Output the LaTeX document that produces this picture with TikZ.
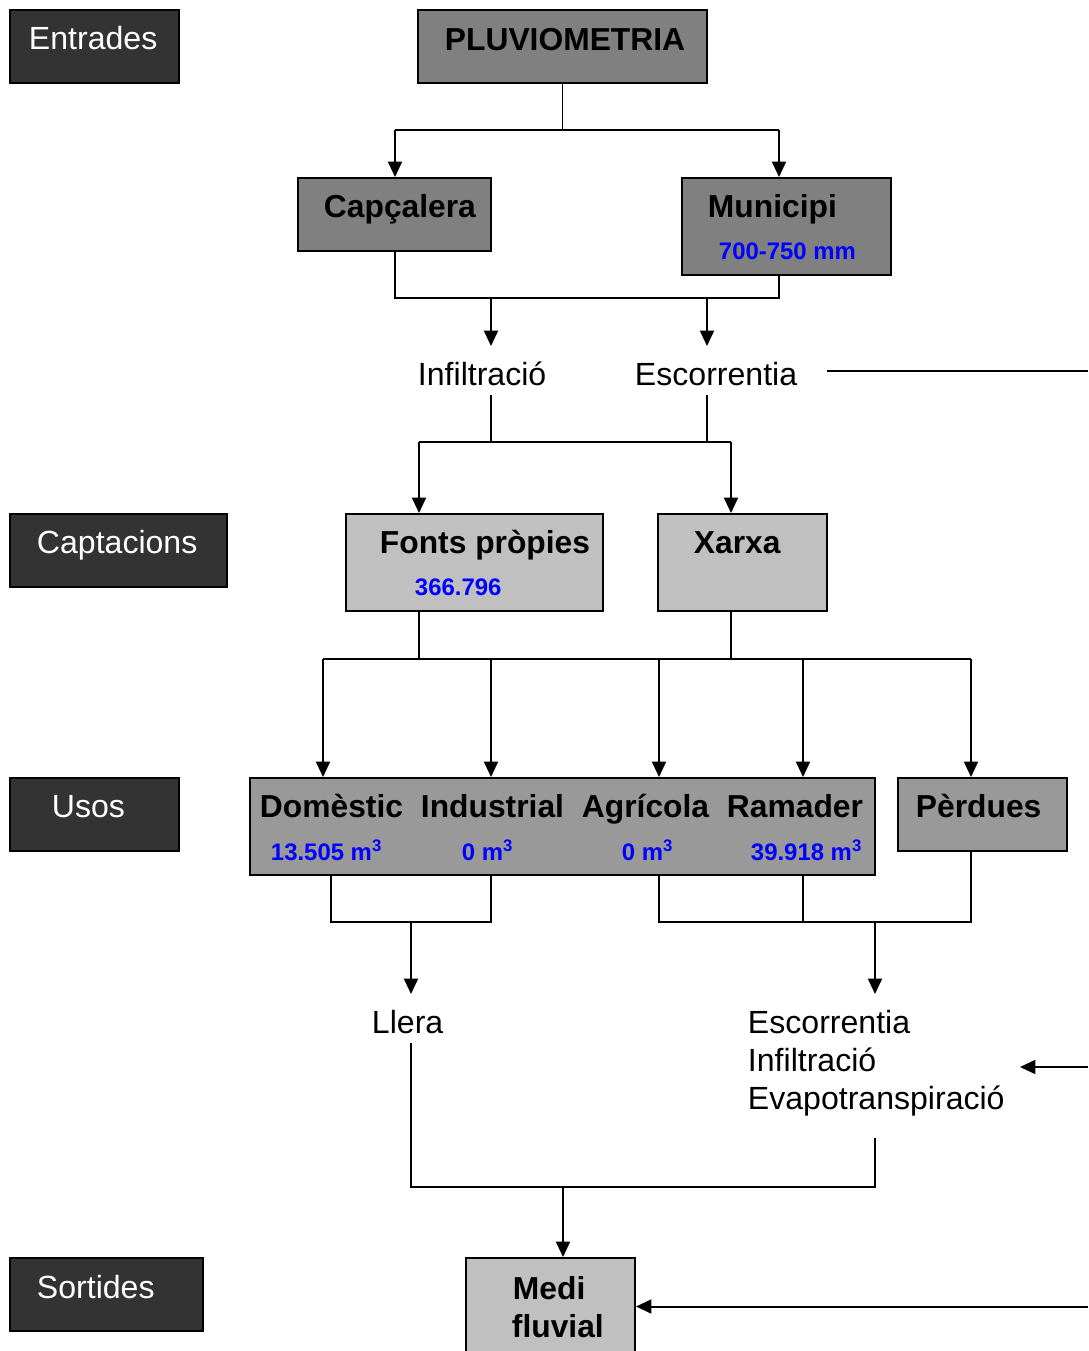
\documentclass[tikz,border=0pt]{standalone}
\usepackage{fontspec}
\setmainfont{Liberation Sans}
\usetikzlibrary{arrows.meta}

\definecolor{grisfosc}{HTML}{333333}
\definecolor{grismig}{HTML}{808080}
\definecolor{grisusos}{HTML}{999999}
\definecolor{grisclar}{HTML}{C0C0C0}
\definecolor{blau}{HTML}{0000FF}

\begin{document}
\begin{tikzpicture}[
                x=0.025cm, y=-0.025cm,
                line width=1.4pt,
                >={Triangle[length=11pt,width=10pt]},
                % Caixes rectangulars
                caixa/.style={
                    draw,
                    rectangle,
                    inner sep=0pt,
                    line width=1.4pt
                },
                fosca/.style={caixa, fill=grisfosc},
                % Textos
                rotul/.style={inner sep=0pt, anchor=base west, font=\fontsize{22.8}{27}\selectfont},
                negreta/.style={rotul, font=\fontsize{22.6}{27}\selectfont\bfseries},
                blanc/.style={rotul, text=white},
                valor/.style={inner sep=0pt, anchor=base west, text=blau,
                    font=\fontsize{17}{20}\selectfont\bfseries}
            ]

                \fill[white] (0,0) rectangle (1088,1351);
                \useasboundingbox (0,0) rectangle (1088,1351);

                % ========================================================
                % 1. Eixos i nivells de les connexions
                % ========================================================
                \coordinate (x-capc) at (395,0);
                \coordinate (x-muni) at (779,0);
                \coordinate (x-infil) at (491,0);
                \coordinate (x-escor) at (707,0);
                \coordinate (x-fonts) at (419,0);
                \coordinate (x-xarxa) at (731,0);
                \coordinate (x-dom) at (323,0);
                \coordinate (x-dom2) at (331,0);
                \coordinate (x-ind) at (491,0);
                \coordinate (x-agr) at (659,0);
                \coordinate (x-ram) at (803,0);
                \coordinate (x-perd) at (971,0);
                \coordinate (x-llera) at (411,0);
                \coordinate (x-evap) at (875,0);
                \coordinate (x-medi) at (563,0);
                \coordinate (dreta) at (1088,0);

                \coordinate (y-pluvio) at (0,130);
                \coordinate (y-conca) at (0,298);
                \coordinate (y-aigua-dalt) at (0,346);
                \coordinate (y-aigua-baix) at (0,395);
                \coordinate (y-capt) at (0,442);
                \coordinate (y-usos) at (0,659);
                \coordinate (y-retorn) at (0,922);
                \coordinate (y-sort-dalt) at (0,994);
                \coordinate (y-llera-baix) at (0,1043);
                \coordinate (y-evap-baix) at (0,1138);
                \coordinate (y-medi) at (0,1187);

                % ========================================================
                % 2. Entrades
                % ========================================================
                \node[fosca, minimum width=4.225cm, minimum height=1.825cm] (entrades) at (94.5,46.5) {};
                \node[blanc] (entrades-t) at (28,49) {Entrades};

                \node[caixa, fill=grismig, minimum width=7.225cm, minimum height=1.825cm] (pluvio) at (562.5,46.5) {};
                \node[negreta] (pluvio-t) at (444,50) {PLUVIOMETRIA};

                \node[caixa, fill=grismig, minimum width=4.825cm, minimum height=1.825cm] (capcalera) at (394.5,214.5) {};
                \node[negreta] (capcalera-t) at (323,217) {Capçalera};

                \node[caixa, fill=grismig, minimum width=5.225cm, minimum height=2.425cm] (municipi) at (786.5,226.5) {};
                \node[negreta] (municipi-t) at (707,217) {Municipi};
                \node[valor] (municipi-v) at (718,259) {700-750 mm};

                % Pluviometria cap a capçalera i municipi
                \draw (pluvio.south) -- (pluvio.south |- y-pluvio);
                \draw (x-capc |- y-pluvio) -- (x-muni |- y-pluvio);
                \foreach \e in {capc, muni}
                    \draw[->] (x-\e |- y-pluvio) -- (x-\e |- capcalera.north);

                % Infiltració i escorrentia
                \node[rotul] (infiltracio) at (417,385) {Infiltració};
                \node[rotul] (escorrentia) at (634,385) {Escorrentia};

                \draw (x-capc |- capcalera.south) -- (x-capc |- y-conca) -- (x-muni |- y-conca) -- (x-muni |- municipi.south);
                \foreach \e in {infil, escor}
                    \draw[->] (x-\e |- y-conca) -- (x-\e |- y-aigua-dalt);

                % Escorrentia cap al costat dret
                \coordinate (escor-sortida) at (827,371);
                \draw (escor-sortida) -- (escor-sortida -| dreta);

                % ========================================================
                % 3. Captacions
                % ========================================================
                \node[fosca, minimum width=5.425cm, minimum height=1.825cm] (captacions) at (118.5,550.5) {};
                \node[blanc] (captacions-t) at (36,553) {Captacions};

                \node[caixa, fill=grisclar, minimum width=6.425cm, minimum height=2.425cm] (fonts) at (474.5,562.5) {};
                \node[negreta] (fonts-t) at (379,553) {Fonts pròpies};
                \node[valor] (fonts-v) at (414,595) {366.796};

                \node[caixa, fill=grisclar, minimum width=4.225cm, minimum height=2.425cm] (xarxa) at (742.5,562.5) {};
                \node[negreta] (xarxa-t) at (693,553) {Xarxa};

                \foreach \e in {infil, escor}
                    \draw (x-\e |- y-aigua-baix) -- (x-\e |- y-capt);
                \draw (x-fonts |- y-capt) -- (x-xarxa |- y-capt);
                \foreach \e in {fonts, xarxa}
                    \draw[->] (x-\e |- y-capt) -- (x-\e |- fonts.north);

                % ========================================================
                % 4. Usos
                % ========================================================
                \node[fosca, minimum width=4.225cm, minimum height=1.825cm] (usos) at (94.5,814.5) {};
                \node[blanc] (usos-t) at (51,817) {Usos};

                \node[caixa, fill=grisusos, minimum width=15.625cm, minimum height=2.425cm] (consum) at (562.5,826.5) {};
                \node[negreta] (domestic) at (259,817) {Domèstic};
                \node[negreta] (industrial) at (420,817) {Industrial};
                \node[negreta] (agricola) at (581,817) {Agrícola};
                \node[negreta] (ramader) at (726,817) {Ramader};
                \node[valor] (domestic-v) at (270,860) {13.505 m\textsuperscript{3}};
                \node[valor] (industrial-v) at (461,860) {0 m\textsuperscript{3}};
                \node[valor] (agricola-v) at (621,860) {0 m\textsuperscript{3}};
                \node[valor] (ramader-v) at (750,860) {39.918 m\textsuperscript{3}};

                \node[caixa, fill=grisusos, minimum width=4.225cm, minimum height=1.825cm] (perdues) at (982.5,814.5) {};
                \node[negreta] (perdues-t) at (915,817) {Pèrdues};

                \draw (x-fonts |- fonts.south) -- (x-fonts |- y-usos);
                \draw (x-xarxa |- xarxa.south) -- (x-xarxa |- y-usos);
                \draw (x-dom |- y-usos) -- (x-perd |- y-usos);
                \foreach \e in {dom, ind, agr, ram, perd}
                    \draw[->] (x-\e |- y-usos) -- (x-\e |- consum.north);

                % ========================================================
                % 5. Retorns
                % ========================================================
                \node[rotul] (llera) at (371,1033) {Llera};
                \node[rotul] (escorrentia2) at (747,1033) {Escorrentia};
                \node[rotul] (infiltracio2) at (747,1071) {Infiltració};
                \node[rotul] (evapo) at (747,1109) {Evapotranspiració};

                % Domèstic i industrial cap a la llera
                \draw (x-dom2 |- consum.south) -- (x-dom2 |- y-retorn) -- (x-ind |- y-retorn) -- (x-ind |- consum.south);
                \draw[->] (x-llera |- y-retorn) -- (x-llera |- y-sort-dalt);

                % Agrícola, ramader i pèrdues cap a l'escorrentia
                \draw (x-agr |- consum.south) -- (x-agr |- y-retorn) -- (x-perd |- y-retorn) -- (x-perd |- perdues.south);
                \draw (x-ram |- consum.south) -- (x-ram |- y-retorn);
                \draw[->] (x-evap |- y-retorn) -- (x-evap |- y-sort-dalt);

                % Escorrentia des del costat dret
                \coordinate (evapo-entrada) at (1020,1067);
                \draw[->] (evapo-entrada -| dreta) -- (evapo-entrada);

                % ========================================================
                % 6. Sortides
                % ========================================================
                \node[fosca, minimum width=4.825cm, minimum height=1.825cm] (sortides) at (106.5,1294.5) {};
                \node[blanc] (sortides-t) at (36,1298) {Sortides};

                \node[caixa, fill=grisclar, minimum width=4.225cm, minimum height=2.425cm] (medi) at (550.5,1306.5) {};
                \node[negreta] (medi-t) at (512,1299) {Medi};
                \node[negreta] (fluvial-t) at (511,1337) {fluvial};

                \draw (x-llera |- y-llera-baix) -- (x-llera |- y-medi) -- (x-evap |- y-medi) -- (x-evap |- y-evap-baix);
                \draw[->] (x-medi |- y-medi) -- (x-medi |- medi.north);
                \draw[->] (medi.east -| dreta) -- (medi.east);

            \end{tikzpicture}
\end{document}
